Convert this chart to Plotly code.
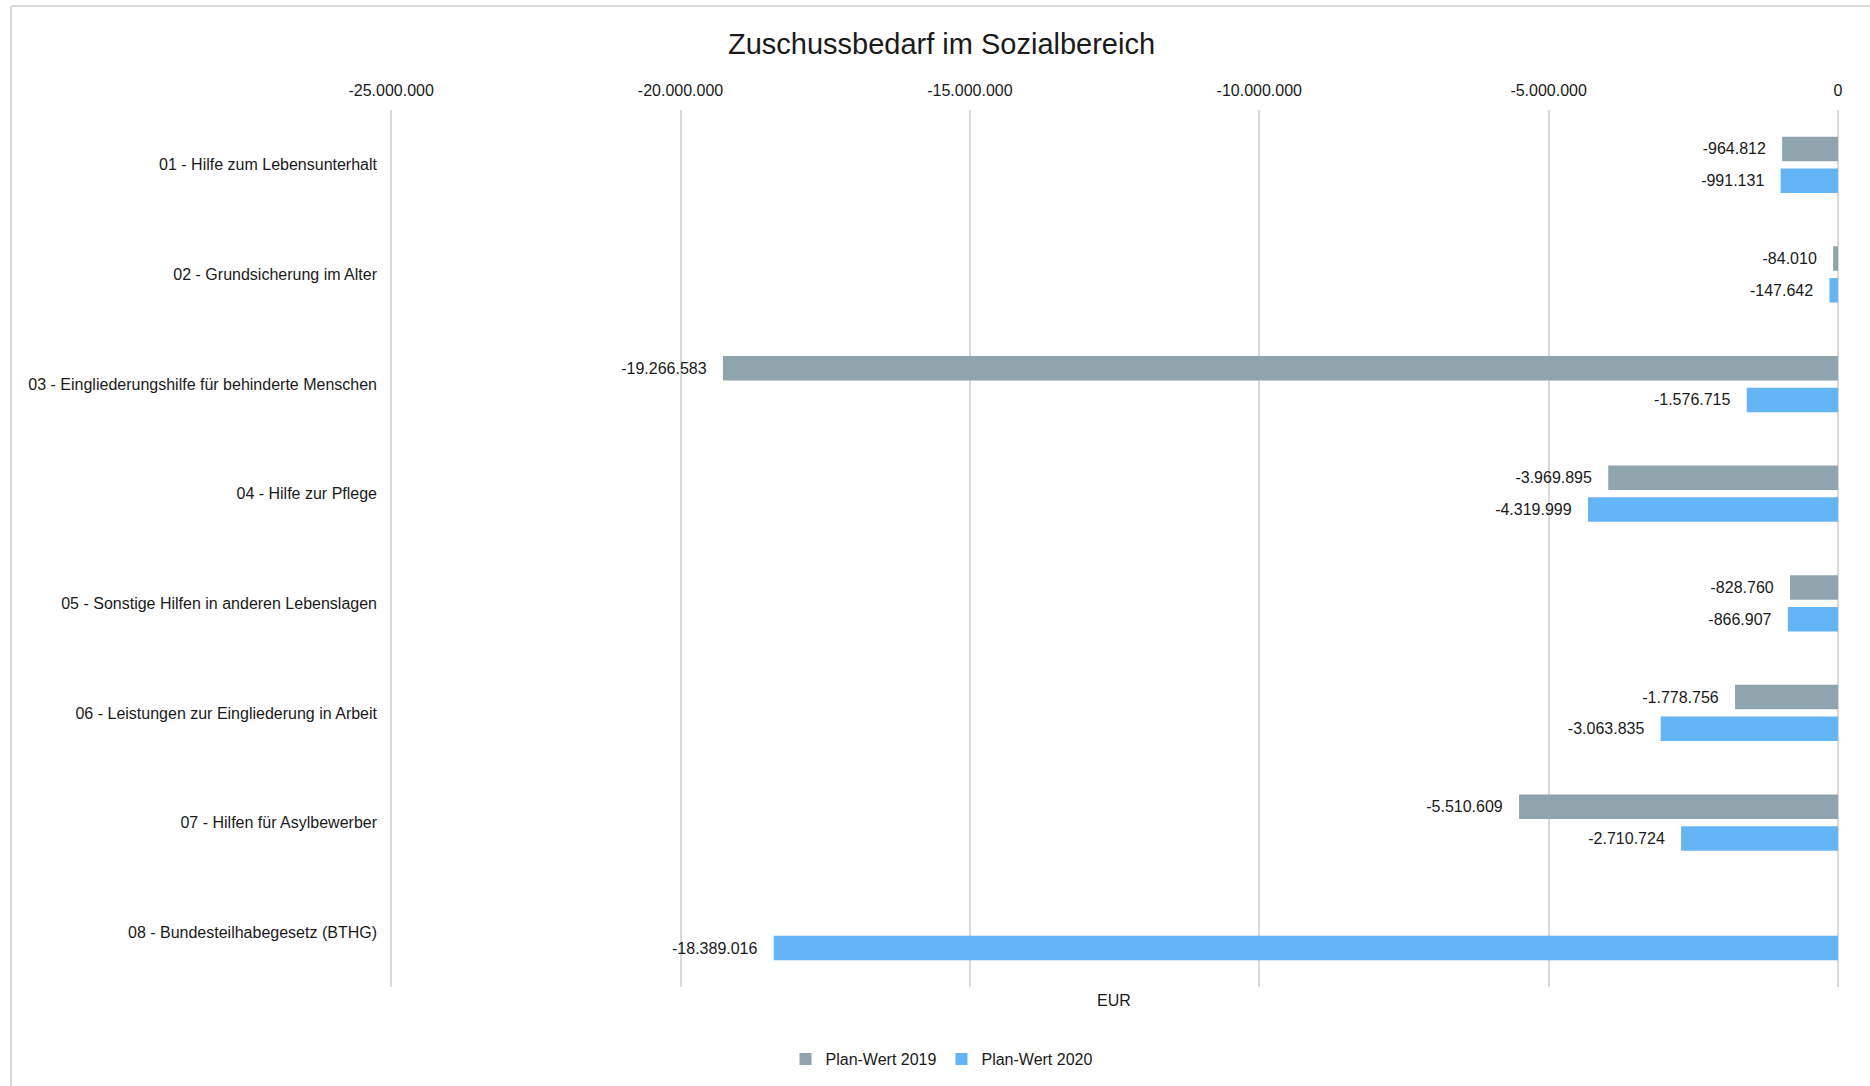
import plotly.graph_objects as go

# Kategorien des Sozialbereichs (von oben nach unten)
categories = [
    "01 - Hilfe zum Lebensunterhalt",
    "02 - Grundsicherung im Alter",
    "03 - Eingliederungshilfe für behinderte Menschen",
    "04 - Hilfe zur Pflege",
    "05 - Sonstige Hilfen in anderen Lebenslagen",
    "06 - Leistungen zur Eingliederung in Arbeit",
    "07 - Hilfen für Asylbewerber",
    "08 - Bundesteilhabegesetz (BTHG)",
]

# Zuschussbedarf in EUR
plan_2019 = [-964812, -84010, -19266583, -3969895, -828760, -1778756, -5510609, None]
plan_2020 = [-991131, -147642, -1576715, -4319999, -866907, -3063835, -2710724, -18389016]

x_ticks = [-25000000, -20000000, -15000000, -10000000, -5000000, 0]


def de_number(v):
    """Ganzzahl mit Punkt als Tausendertrennzeichen und normalem Bindestrich."""
    return f"{v:,.0f}".replace(",", ".")


x_tick_text = [de_number(v) for v in x_ticks]

FONT = "Liberation Sans Narrow, Arial Narrow, Liberation Sans, Arial, sans-serif"
TEXT = "#1a1a1a"
GREY = "#90A4AE"
BLUE = "#64B5F6"
GRID = "#D9D9D9"

fig = go.Figure()
for name, values, color in [
    ("Plan-Wert 2019", plan_2019, GREY),
    ("Plan-Wert 2020", plan_2020, BLUE),
]:
    fig.add_trace(go.Bar(
        name=name,
        y=categories,
        x=values,
        orientation="h",
        marker=dict(color=color, line=dict(width=0)),
        texttemplate="%{x:,.0f}\u00a0\u00a0\u00a0",
        textposition="outside",
        cliponaxis=False,
        textfont=dict(family=FONT, size=16, color=TEXT),
    ))

# Plotbereich in Pixeln (für den Rahmen um das Diagramm)
L, R, T, B = 390, 32, 110, 99
W, H = 1870, 1086
pw, ph = W - L - R, H - T - B
CENTER = 941.5 / W  # Mitte des gerahmten Diagrammbereichs


def px_x(px):
    return (px - L) / pw


def px_y(py):
    return (H - B - py) / ph


fig.update_layout(
    width=W,
    height=H,
    separators=",.",
    plot_bgcolor="white",
    paper_bgcolor="white",
    font=dict(family=FONT, size=16, color=TEXT),
    margin=dict(l=L, r=R, t=T, b=B),
    barmode="group",
    bargap=0.42,
    bargroupgap=0.23,
    title=dict(
        text="Zuschussbedarf im Sozialbereich",
        x=CENTER, xref="container", xanchor="center",
        y=1 - 44 / H, yref="container", yanchor="middle",
        font=dict(family=FONT, size=29, color=TEXT),
    ),
    xaxis=dict(
        side="top",
        range=[-25020000, 0],
        tickvals=x_ticks,
        ticktext=x_tick_text,
        showgrid=True,
        gridcolor=GRID,
        gridwidth=2,
        zeroline=True,
        zerolinecolor=GRID,
        zerolinewidth=2,
        showline=False,
        ticks="",
        ticklabelstandoff=10,
        tickfont=dict(family=FONT, size=16, color=TEXT),
    ),
    yaxis=dict(
        autorange="reversed",
        showgrid=False,
        showline=False,
        ticks="",
        ticklabelstandoff=12,
        tickfont=dict(family=FONT, size=16, color=TEXT),
    ),
    legend=dict(
        orientation="h",
        x=CENTER, xref="container", xanchor="center",
        y=1 - 1059 / H, yref="container", yanchor="middle",
        font=dict(family=FONT, size=16, color=TEXT),
        itemwidth=30,
        traceorder="normal",
    ),
    annotations=[dict(
        text="EUR",
        x=0.5, xref="paper", xanchor="center",
        y=px_y(1000), yref="paper", yanchor="middle",
        showarrow=False,
        font=dict(family=FONT, size=16, color=TEXT),
    )],
    shapes=[
        # Rahmen des Diagrammbereichs (oben und links)
        dict(type="line", xref="paper", yref="paper",
             x0=px_x(11), x1=px_x(W + 10),
             y0=px_y(6), y1=px_y(6),
             line=dict(color=GRID, width=2)),
        dict(type="line", xref="paper", yref="paper",
             x0=px_x(11), x1=px_x(11),
             y0=px_y(6), y1=px_y(H + 10),
             line=dict(color=GRID, width=2)),
    ],
)

fig.write_html("out.html")
